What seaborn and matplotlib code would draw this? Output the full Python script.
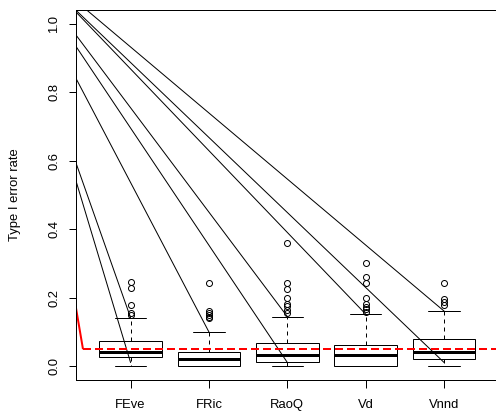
import numpy as np
import pandas as pd
import matplotlib
matplotlib.use("Agg")
import matplotlib.pyplot as plt
import seaborn as sns

# ---------------- data ----------------
categories = ["FEve", "FRic", "RaoQ", "Vd", "Vnnd"]

FEve = [0.0, 0.005, 0.01, 0.015, 0.015, 0.02, 0.02, 0.02, 0.025, 0.025, 0.027,
        0.03, 0.03, 0.03, 0.035, 0.035, 0.035, 0.04, 0.04, 0.04, 0.041,
        0.045, 0.045, 0.05, 0.05, 0.055, 0.055, 0.06, 0.065, 0.07, 0.075,
        0.08, 0.085, 0.09, 0.10, 0.142, 0.15, 0.155, 0.18, 0.23, 0.245]
FRic = [0.0, 0.0, 0.0, 0.0, 0.0, 0.0, 0.0, 0.0, 0.0, 0.0, 0.0,
        0.0, 0.005, 0.005, 0.01, 0.01, 0.015, 0.015, 0.02, 0.02, 0.021,
        0.025, 0.025, 0.03, 0.03, 0.03, 0.035, 0.035, 0.035, 0.04, 0.041,
        0.05, 0.06, 0.08, 0.10, 0.14, 0.145, 0.15, 0.155, 0.16, 0.243]
RaoQ = [0.0, 0.0, 0.0, 0.005, 0.005, 0.01, 0.01, 0.01, 0.012, 0.014, 0.014,
        0.015, 0.02, 0.02, 0.02, 0.025, 0.025, 0.03, 0.03, 0.03, 0.032,
        0.035, 0.04, 0.04, 0.045, 0.05, 0.05, 0.055, 0.06, 0.065, 0.067,
        0.09, 0.145, 0.157, 0.164, 0.175, 0.183, 0.2, 0.227, 0.244, 0.36]
Vd = [0.0, 0.0, 0.0, 0.0, 0.0, 0.0, 0.0, 0.0, 0.0, 0.0, 0.0,
      0.005, 0.01, 0.01, 0.015, 0.02, 0.02, 0.025, 0.03, 0.03, 0.032,
      0.035, 0.04, 0.04, 0.045, 0.045, 0.05, 0.05, 0.055, 0.06, 0.062,
      0.10, 0.152, 0.159, 0.166, 0.173, 0.183, 0.2, 0.244, 0.261, 0.301]
Vnnd = [0.0, 0.005, 0.01, 0.01, 0.015, 0.015, 0.02, 0.02, 0.02, 0.022, 0.022,
        0.025, 0.025, 0.03, 0.03, 0.035, 0.035, 0.04, 0.04, 0.04, 0.041,
        0.045, 0.05, 0.05, 0.055, 0.06, 0.065, 0.07, 0.075, 0.078, 0.08,
        0.085, 0.09, 0.10, 0.11, 0.12, 0.161, 0.18, 0.187, 0.195, 0.244]

# straight black lines: value at left edge -> value at a category
line_start_y = [0.544, 0.596, 0.842, 0.935, 0.968, 1.035, 1.04, 1.067]
line_end_cat = ["FEve", "FEve", "FRic", "RaoQ", "RaoQ", "Vd", "Vnnd", "Vnnd"]
line_end_y = [0.011, 0.142, 0.10, 0.011, 0.145, 0.152, 0.011, 0.161]

# red reference: nominal alpha level and its solid lead-in segment
alpha_level = 0.05
red_lead_y = [0.175, 0.05]
red_lead_dx = 0.093

ytick_vals = [0.0, 0.2, 0.4, 0.6, 0.8, 1.0]
ytick_labels = ["0.0", "0.2", "0.4", "0.6", "0.8", "1.0"]
y_label = "Type I error rate"

# ---------------- figure ----------------
sns.set_theme(style="ticks")
plt.rcParams["font.family"] = ["Liberation Sans", "DejaVu Sans"]
plt.rcParams.update({
    "text.color": "black",
    "axes.labelcolor": "black",
    "xtick.color": "black",
    "ytick.color": "black",
    "xtick.labelcolor": "black",
    "ytick.labelcolor": "black",
    "axes.edgecolor": "black",
})

W, H = 496, 419
fig = plt.figure(figsize=(W / 72, H / 72), dpi=72)
ax = fig.add_axes([75.7 / W, 39 / H, 423.3 / W, 370 / H])

df = pd.DataFrame({
    "index": np.repeat(categories, [len(FEve), len(FRic), len(RaoQ), len(Vd), len(Vnnd)]),
    "rate": np.concatenate([FEve, FRic, RaoQ, Vd, Vnnd]),
})

sns.boxplot(
    data=df, x="index", y="rate", order=categories, ax=ax,
    width=0.8, color="white", linecolor="black", linewidth=1, whis=1.5,
    medianprops=dict(linewidth=3, color="black"),
    whiskerprops=dict(linestyle=(0, (4, 4)), color="black", linewidth=1),
    capprops=dict(color="black", linewidth=1),
    flierprops=dict(marker="o", markerfacecolor="none", markeredgecolor="black",
                    markersize=6, markeredgewidth=1),
)

xmin, xmax = -0.7, len(categories) - 1 + 0.7
ax.set_xlim(xmin, xmax)
ax.set_ylim(-0.04, 1.04)

for s, c, e in zip(line_start_y, line_end_cat, line_end_y):
    ax.plot([xmin, categories.index(c)], [s, e], color="black", lw=1)

ax.plot([xmin, xmin + red_lead_dx], red_lead_y, color="red", lw=2,
        solid_capstyle="butt")
ax.plot([xmin + red_lead_dx, xmax], [alpha_level, alpha_level], color="red",
        lw=2, linestyle=(0, (4, 2)))

# axes styling
for side in ["left", "top", "bottom", "right"]:
    ax.spines[side].set_visible(True)
    ax.spines[side].set_color("black")
    ax.spines[side].set_linewidth(1)

ax.set_yticks(ytick_vals)
ax.set_yticklabels(ytick_labels)
ax.tick_params(axis="y", length=7.5, width=1, color="black", labelcolor="black",
               pad=8, labelsize=13, direction="out")
ax.tick_params(axis="x", length=8, width=1, color="black", labelcolor="black",
               pad=11, labelsize=13, direction="out")
for lab in ax.get_yticklabels():
    lab.set_rotation(90)
    lab.set_va("center")
    lab.set_ha("right")

ax.set_xlabel("")
ax.set_ylabel(y_label, fontsize=13, color="black")
ax.yaxis.label.set_va("center")
ax.yaxis.set_label_coords((15 - 75.7) / 423.3, 0.5)

fig.savefig("out.png", dpi=72)
